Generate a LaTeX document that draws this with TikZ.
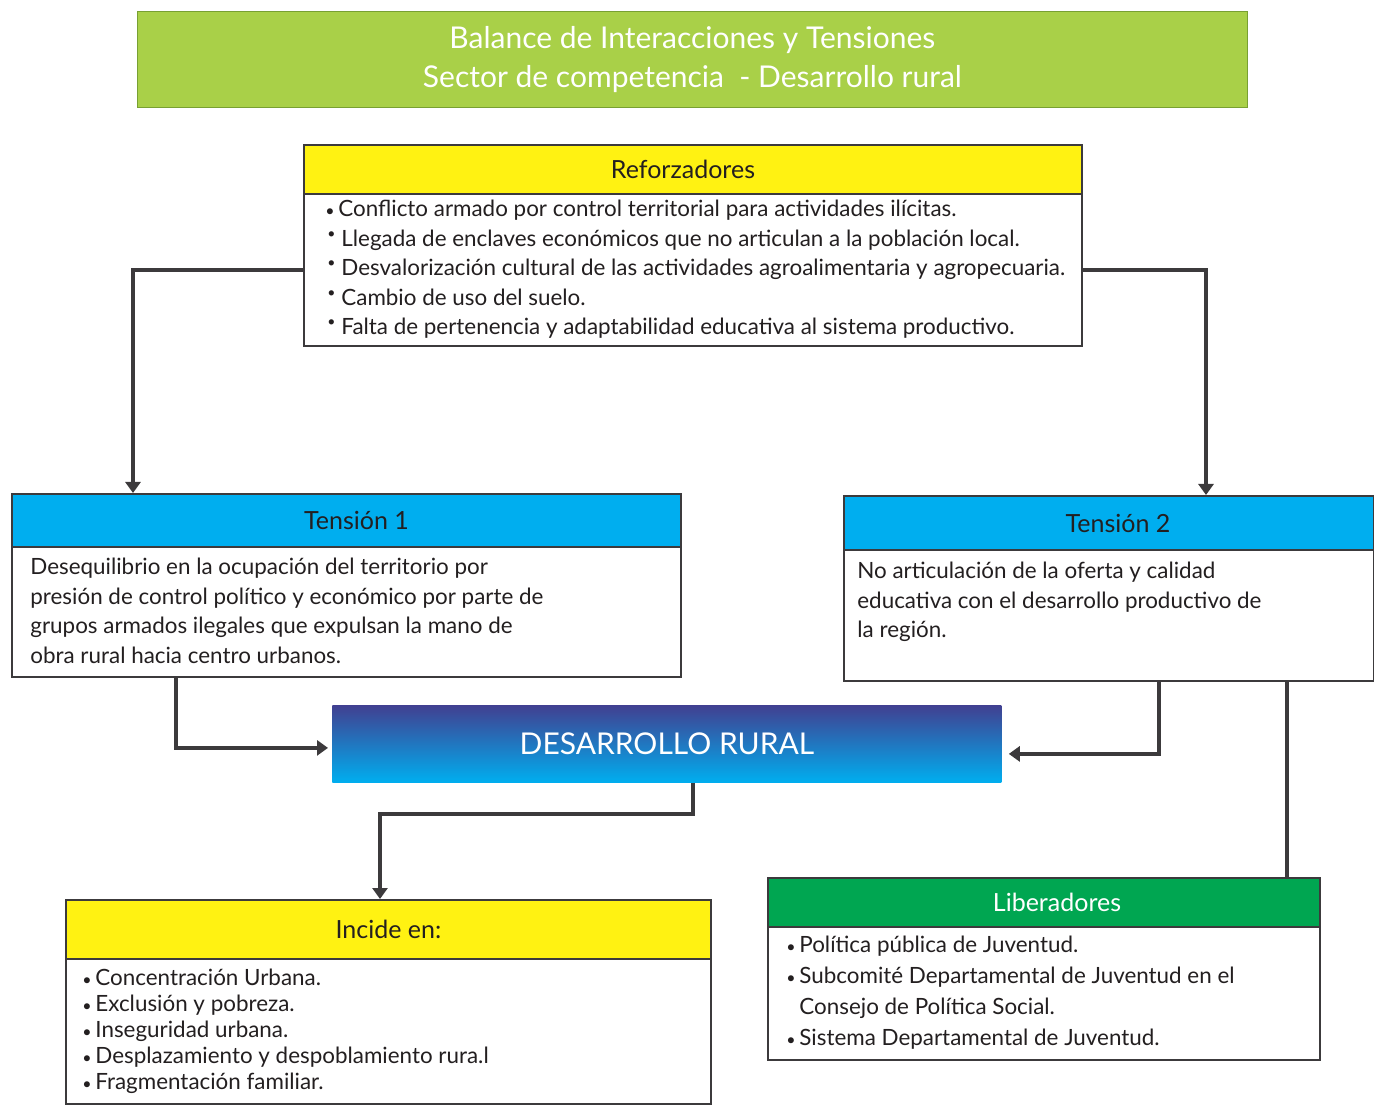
\documentclass[tikz,border=0pt]{standalone}
\usepackage{fontspec}
\setmainfont{Lato}
\usetikzlibrary{arrows.meta}
\definecolor{titlegreen}{RGB}{169,208,72}
\definecolor{titleedge}{RGB}{120,160,50}
\definecolor{boxyellow}{RGB}{255,242,18}
\definecolor{boxcyan}{RGB}{0,174,239}
\definecolor{boxgreen}{RGB}{0,166,81}
\definecolor{ruralblue}{RGB}{65,64,145}
\definecolor{edgegray}{RGB}{60,58,60}
\definecolor{textgray}{RGB}{35,31,32}
\newcommand{\upbul}{\hspace{1pt}\makebox[7pt][l]{\raisebox{4pt}{\scriptsize\textbullet}}}
\newcommand{\lowbul}{\makebox[6.5pt][l]{\raisebox{0.3pt}{\footnotesize\textbullet}}}

\begin{document}
\begin{tikzpicture}[x=0.5pt,y=-0.5pt,
    box/.style={draw=edgegray, line width=1pt, fill=white, anchor=north west, inner sep=0pt},
    head/.style={draw=edgegray, line width=1pt, anchor=north west, inner sep=0pt,
      text=textgray, font=\fontsize{12.5}{15}\selectfont},
    body/.style={anchor=north west, align=left, inner sep=0pt, text=textgray},
    link/.style={draw=edgegray, line width=2pt},
    linkarrow/.style={-{Triangle[length=5.5pt,width=7.5pt]}}]
        \useasboundingbox (0,0) rectangle (1374,1111);
        % titulo
        \node[draw=titleedge, fill=titlegreen, minimum width=555pt, minimum height=48pt,
          anchor=north west, inner sep=0pt, text=white, align=center,
          font=\fontsize{15}{19.5}\selectfont] (title) at (137,11)
          {Balance de Interacciones y Tensiones\\Sector de competencia\ \ - Desarrollo rural};
        % reforzadores
        \node[box, minimum width=389pt, minimum height=100.5pt] (ref) at (303,144) {};
        \node[head, fill=boxyellow, minimum width=389pt, minimum height=24.5pt] (refh) at (ref.north west) {Reforzadores\hspace*{10pt}};
        \node[body, font=\fontsize{11.2}{14.75}\selectfont] (reftxt) at (325,200)
          {\lowbul Conflicto armado por control territorial para actividades ilícitas.\\
           \upbul Llegada de enclaves económicos que no articulan a la población local.\\
           \upbul Desvalorización cultural de las actividades agroalimentaria y agropecuaria.\\
           \upbul Cambio de uso del suelo.\\
           \upbul Falta de pertenencia y adaptabilidad educativa al sistema productivo.};
        % tension 1
        \node[box, minimum width=334.5pt, minimum height=91.5pt] (t1) at (11,493) {};
        \node[head, fill=boxcyan, minimum width=334.5pt, minimum height=26.5pt] (t1h) at (t1.north west) {\hspace*{10pt}Tensión 1};
        \node[body, font=\fontsize{11.2}{14.75}\selectfont] (t1txt) at (30,558)
          {Desequilibrio en la ocupación del territorio por\\
           presión de control político y económico por parte de\\
           grupos armados ilegales que expulsan la mano de\\
           obra rural hacia centro urbanos.};
        % tension 2
        \node[box, minimum width=265pt, minimum height=92.5pt] (t2) at (843,495) {};
        \node[head, fill=boxcyan, minimum width=265pt, minimum height=27pt] (t2h) at (t2.north west) {\hspace*{9pt}Tensión 2};
        \node[body, font=\fontsize{11.2}{14.75}\selectfont] (t2txt) at (857,562)
          {No articulación de la oferta y calidad\\
           educativa con el desarrollo productivo de\\
           la región.};
        % desarrollo rural
        \node[top color=ruralblue, bottom color=boxcyan, minimum width=334.5pt, minimum height=38.5pt,
          anchor=north west, inner sep=0pt, text=white, font=\fontsize{15}{18}\selectfont] (dr) at (332,705)
          {DESARROLLO RURAL};
        % incide en
        \node[box, minimum width=322.5pt, minimum height=102pt] (inc) at (65,899) {};
        \node[head, fill=boxyellow, minimum width=322.5pt, minimum height=29.5pt] (inch) at (inc.north west) {Incide en:};
        \node[body, font=\fontsize{11.2}{13}\selectfont] (inctxt) at (82,969)
          {\lowbul Concentración Urbana.\\
           \lowbul Exclusión y pobreza.\\
           \lowbul Inseguridad urbana.\\
           \lowbul Desplazamiento y despoblamiento rura.l\\
           \lowbul Fragmentación familiar.};
        % liberadores
        \node[box, minimum width=276pt, minimum height=91pt] (lib) at (767,877) {};
        \node[head, fill=boxgreen, text=white, minimum width=276pt, minimum height=24.5pt] (libh) at (lib.north west) {\hspace*{13pt}Liberadores};
        \node[body, font=\fontsize{11.2}{15.5}\selectfont] (libtxt) at (786,936)
          {\lowbul Política pública de Juventud.\\
           \lowbul Subcomité Departamental de Juventud en el\\
           \hspace*{6.5pt}Consejo de Política Social.\\
           \lowbul Sistema Departamental de Juventud.};
        % conectores
        \draw[link, linkarrow] ([yshift=-12.25pt]ref.west) -| ([xshift=61pt]t1.north west);
        \draw[link, linkarrow] ([yshift=-12.25pt]ref.east) -| ([xshift=-84.5pt]t2.north east);
        \draw[link, linkarrow, shorten >=2pt] ([xshift=82.5pt]t1.south west) |- ([yshift=-2pt]dr.west);
        \draw[link, linkarrow, shorten >=3.5pt] ([xshift=158pt]t2.south west) |- ([yshift=-5pt]dr.east);
        \draw[link, linkarrow] ([xshift=180.5pt]dr.south west) -- ++(0,31) -| ([xshift=157.5pt]inc.north west);
        \draw[link] ([xshift=222pt]t2.south west) -- ([xshift=260pt]lib.north west);
\end{tikzpicture}
\end{document}
